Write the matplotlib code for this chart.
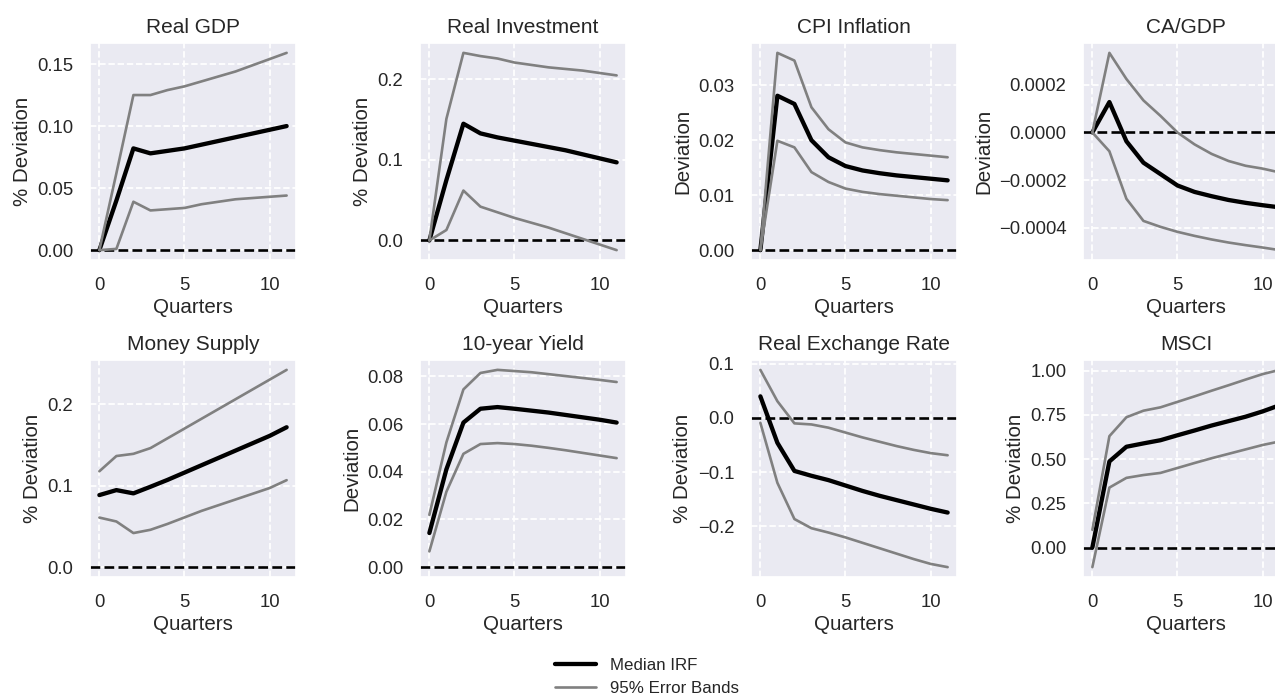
import numpy as np
import matplotlib
matplotlib.use("Agg")
import matplotlib.pyplot as plt
import seaborn as sns

sns.set_theme(style="darkgrid", rc={"grid.linestyle": "--"})
plt.rcParams['font.family'] = ['Liberation Sans', 'DejaVu Sans']

quarters = list(range(12))

titles = ["Real GDP", "Real Investment", "CPI Inflation", "CA/GDP",
          "Money Supply", "10-year Yield", "Real Exchange Rate", "MSCI"]
ylabels = ["% Deviation", "% Deviation", "Deviation", "Deviation",
           "% Deviation", "Deviation", "% Deviation", "% Deviation"]
yticks = [
    [0.00, 0.05, 0.10, 0.15],
    [0.0, 0.1, 0.2],
    [0.00, 0.01, 0.02, 0.03],
    [-0.0004, -0.0002, 0.0, 0.0002],
    [0.0, 0.1, 0.2],
    [0.00, 0.02, 0.04, 0.06, 0.08],
    [-0.2, -0.1, 0.0, 0.1],
    [0.00, 0.25, 0.50, 0.75, 1.00],
]
xticks = [0, 5, 10]

gdp_med = [0.0, 0.040, 0.082, 0.078, 0.080, 0.082, 0.085, 0.088, 0.091, 0.094, 0.097, 0.100]
gdp_up = [0.0, 0.062, 0.125, 0.125, 0.129, 0.132, 0.136, 0.140, 0.144, 0.149, 0.154, 0.159]
gdp_lo = [0.0, 0.001, 0.039, 0.032, 0.033, 0.034, 0.037, 0.039, 0.041, 0.042, 0.043, 0.044]

inv_med = [0.0, 0.075, 0.145, 0.133, 0.128, 0.124, 0.120, 0.116, 0.112, 0.107, 0.102, 0.097]
inv_up = [0.0, 0.151, 0.233, 0.229, 0.226, 0.221, 0.218, 0.215, 0.213, 0.211, 0.208, 0.205]
inv_lo = [0.0, 0.013, 0.062, 0.042, 0.035, 0.028, 0.022, 0.016, 0.009, 0.002, -0.005, -0.012]

cpi_med = [0.0, 0.0281, 0.0266, 0.0200, 0.0169, 0.0153, 0.0145, 0.0140, 0.0136, 0.0133, 0.0130, 0.0127]
cpi_up = [0.0, 0.0359, 0.0345, 0.0260, 0.0220, 0.0196, 0.0187, 0.0182, 0.0178, 0.0175, 0.0172, 0.0169]
cpi_lo = [0.0, 0.0199, 0.0187, 0.0142, 0.0124, 0.0112, 0.0106, 0.0102, 0.0099, 0.0096, 0.0093, 0.0091]

ca_med = [0.0, 0.000128, -0.000037, -0.000127, -0.000175, -0.000223, -0.000250, -0.000268,
          -0.000284, -0.000296, -0.000306, -0.000315]
ca_up = [0.0, 0.000335, 0.000225, 0.000135, 0.000070, 0.0, -0.000050, -0.000090,
         -0.000120, -0.000140, -0.000152, -0.000168]
ca_lo = [0.0, -0.000079, -0.000279, -0.000372, -0.000397, -0.000418, -0.000435, -0.000450,
         -0.000463, -0.000474, -0.000484, -0.000495]

m_med = [0.0884, 0.0945, 0.0905, 0.0986, 0.107, 0.116, 0.125, 0.134, 0.143, 0.152, 0.161, 0.1716]
m_up = [0.1176, 0.1363, 0.139, 0.146, 0.158, 0.170, 0.182, 0.194, 0.206, 0.218, 0.230, 0.242]
m_lo = [0.0608, 0.056, 0.0418, 0.0458, 0.053, 0.061, 0.069, 0.076, 0.083, 0.090, 0.097, 0.1067]

y10_med = [0.0143, 0.0410, 0.0606, 0.0664, 0.0671, 0.0664, 0.0656, 0.0648, 0.0638, 0.0628, 0.0618, 0.0606]
y10_up = [0.0219, 0.0523, 0.0745, 0.0814, 0.0827, 0.0822, 0.0817, 0.0809, 0.0801, 0.0793, 0.0785, 0.0776]
y10_lo = [0.0066, 0.0316, 0.0475, 0.0516, 0.0520, 0.0516, 0.0509, 0.0500, 0.0490, 0.0479, 0.0468, 0.0457]

rer_med = [0.040, -0.046, -0.098, -0.107, -0.115, -0.125, -0.135, -0.144, -0.152, -0.160, -0.168, -0.175]
rer_up = [0.089, 0.031, -0.010, -0.012, -0.018, -0.027, -0.036, -0.044, -0.052, -0.059, -0.065, -0.069]
rer_lo = [-0.009, -0.120, -0.187, -0.204, -0.212, -0.221, -0.231, -0.241, -0.251, -0.261, -0.270, -0.276]

msci_med = [0.0, 0.487, 0.570, 0.589, 0.607, 0.635, 0.662, 0.690, 0.715, 0.740, 0.770, 0.805]
msci_up = [0.10, 0.630, 0.737, 0.774, 0.793, 0.824, 0.855, 0.887, 0.918, 0.950, 0.981, 1.005]
msci_lo = [-0.111, 0.339, 0.394, 0.410, 0.422, 0.450, 0.478, 0.505, 0.530, 0.555, 0.580, 0.600]

medians = [gdp_med, inv_med, cpi_med, ca_med, m_med, y10_med, rer_med, msci_med]
uppers = [gdp_up, inv_up, cpi_up, ca_up, m_up, y10_up, rer_up, msci_up]
lowers = [gdp_lo, inv_lo, cpi_lo, ca_lo, m_lo, y10_lo, rer_lo, msci_lo]

fig = plt.figure(figsize=(12.75, 7.0), dpi=100)

W, H = 1275.0, 700.0
col_left = [90, 420, 751, 1083]
row_top = [43, 360]
ax_w = 206
ax_h = 217

for i in range(8):
    r, c = divmod(i, 4)
    ax = fig.add_axes([col_left[c] / W, 1 - (row_top[r] + ax_h) / H, ax_w / W, ax_h / H])
    ax.grid(True, color="white", linestyle="--", linewidth=1.25)
    ax.plot(quarters, medians[i], color="black", linewidth=3.1, label="Median IRF")
    ax.plot(quarters, uppers[i], color="gray", linewidth=1.9, label="95% Error Bands")
    ax.plot(quarters, lowers[i], color="gray", linewidth=1.9)
    ax.axhline(0, color="black", linestyle="--", linewidth=1.9, zorder=1.5)
    ax.set_title(titles[i], fontsize=15, pad=7)
    ax.set_xlabel("Quarters", fontsize=14.8, labelpad=3)
    ax.set_ylabel(ylabels[i], fontsize=14.8, labelpad=4)
    ax.set_xticks(xticks)
    ax.set_yticks(yticks[i])
    ax.tick_params(labelsize=13.3, pad=6)
    if i == 0:
        handles, labels = ax.get_legend_handles_labels()

fig.legend(handles, labels, loc="center", bbox_to_anchor=(647 / W, 1 - 677 / H),
           frameon=False, fontsize=12.2, handlelength=2.4, labelspacing=0.5)

fig.savefig("out.png", dpi=100)
